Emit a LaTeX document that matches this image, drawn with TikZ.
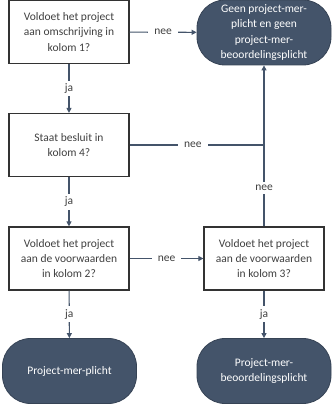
\documentclass[tikz,border=0pt]{standalone}
\usepackage{fontspec}
\setmainfont{Carlito}
\usetikzlibrary{arrows.meta}
\definecolor{slate}{HTML}{44546A}
\definecolor{boxline}{HTML}{333333}
\definecolor{txt}{HTML}{404040}
\begin{document}
\begin{tikzpicture}[x=1pt,y=-1pt,
  qbox/.style={draw=boxline,line width=1.2pt,fill=white,minimum width=120pt,minimum height=63pt,align=center,text=txt,font=\fontsize{11.5}{15.3}\selectfont,inner sep=2pt},
  term/.style={draw=slate!80!black,line width=0.8pt,fill=slate,rounded corners=28pt,minimum width=134pt,minimum height=65pt,align=center,text=white,font=\fontsize{11.5}{15.3}\selectfont,inner sep=2pt},
  conn/.style={draw=slate,line width=1.1pt},
  arr/.style={conn,-{Triangle[length=5pt,width=5pt]}},
  lab/.style={fill=white,text=txt,font=\fontsize{11.5}{14}\selectfont,inner xsep=6pt,inner ysep=3pt}]
\useasboundingbox (0,0) rectangle (333,404);
\node[qbox] (q1) at (69,32) {Voldoet het project\\aan omschrijving in\\kolom 1?};
\node[qbox] (q2) at (69,145) {Staat besluit in\\kolom 4?};
\node[qbox] (q3) at (69,258.5) {Voldoet het project\\aan de voorwaarden\\in kolom 2?};
\node[qbox] (q4) at (264,258.5) {Voldoet het project\\aan de voorwaarden\\in kolom 3?};
\node[term] (t1) at (264,32.5) {Geen project-mer-\\plicht en geen\\project-mer-\\beoordelingsplicht};
\node[term] (t2) at (69.5,371) {Project-mer-plicht};
\node[term] (t3) at (264,371) {Project-mer-\\beoordelingsplicht};
\coordinate (j) at (264,145);
\draw[arr] (q1) -- node[lab,pos=0.5] {nee} (t1);
\draw[arr] (q1) -- node[lab] {ja} (q2);
\draw[conn] (q2) -- node[lab,pos=0.47] {nee} (j);
\draw[conn] (q4) -- node[lab,pos=0.47] {nee} (j);
\draw[arr] (j) -- (t1);
\draw[arr] (q2) -- node[lab] {ja} (q3);
\draw[arr] (q3) -- node[lab,pos=0.5] {nee} (q4);
\draw[arr] (q3) -- node[lab] {ja} (t2);
\draw[arr] (q4) -- node[lab] {ja} (t3);
\end{tikzpicture}
\end{document}
